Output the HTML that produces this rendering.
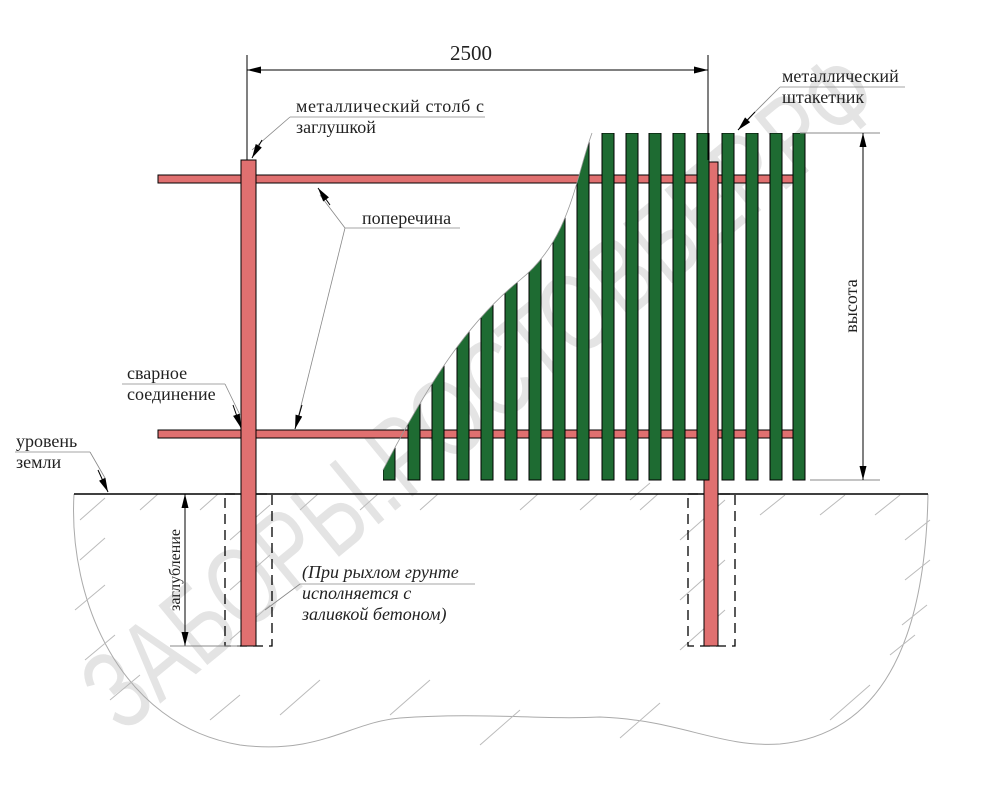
<!DOCTYPE html>
<html><head><meta charset="utf-8"><style>
html,body{margin:0;padding:0;background:#fff}
svg{display:block}
</style></head><body>
<svg width="1000" height="790" viewBox="0 0 1000 790" xmlns="http://www.w3.org/2000/svg">
<defs>
<marker id="a" viewBox="0 0 14 7" refX="14" refY="3.5" markerWidth="16" markerHeight="7" orient="auto" markerUnits="userSpaceOnUse"><path d="M0,0L14,3.5L0,7z" fill="#000"/></marker>
<clipPath id="cur"><path d="M383,470 C430,380 470,320 520,280 C570,240 575,180 592,133 L820,133 L820,490 L383,490Z"/></clipPath>
</defs>
<text transform="translate(122,735) rotate(-39.4)" style="font-family:'Liberation Sans',sans-serif" font-size="112" fill="#e4e4e4" textLength="990" lengthAdjust="spacingAndGlyphs">ЗАБОРЫ.РОСТОВБЕР.РФ</text>
<path d="M74,494 C68,600 120,725 240,745 C320,755 350,722 400,718 C480,712 540,720 600,717 C680,720 720,748 780,744 C870,735 925,660 928,494" fill="none" stroke="#aaa" stroke-width="1"/>
<g stroke="#bbb" stroke-width="1">
<path d="M80,520l25,-22M80,560l25,-22M75,610l30,-25M85,660l30,-25M110,700l30,-25M140,510l18,-16M200,510l18,-16M300,510l18,-16M360,510l18,-16M420,510l18,-16M520,510l18,-16M580,510l18,-16M640,510l18,-16M760,515l25,-20M820,515l25,-20M875,515l25,-20M905,540l25,-20M905,580l25,-20M902,625l25,-20M890,655l25,-20M830,720l40,-35M620,738l40,-35M480,745l40,-35M390,715l40,-35M280,715l40,-35M210,720l30,-25M630,500l20,-17M230,540l40,-35M230,590l40,-35M230,640l40,-35M680,540l45,-40M680,600l45,-40M680,650l45,-40"/>
</g>
<line x1="74" y1="494" x2="928" y2="494" stroke="#000" stroke-width="1.5"/>
<rect x="225" y="494" width="47" height="152" fill="none" stroke="#000" stroke-dasharray="10,6" stroke-width="1.3"/>
<rect x="688" y="494" width="47" height="152" fill="none" stroke="#000" stroke-dasharray="10,6" stroke-width="1.3"/>
<rect x="158" y="175" width="637" height="8" fill="#e07070" stroke="#000"/>
<rect x="158" y="430" width="637" height="8" fill="#e07070" stroke="#000"/>
<rect x="241" y="160" width="15" height="486" fill="#e07070" stroke="#000"/>
<rect x="704" y="162" width="14" height="484" fill="#e07070" stroke="#000"/>
<g clip-path="url(#cur)" fill="#1e6b32" stroke="#000" stroke-width="1">
<rect x="383" y="133" width="12" height="347"/><rect x="408" y="133" width="12" height="347"/><rect x="432" y="133" width="12" height="347"/><rect x="457" y="133" width="12" height="347"/><rect x="481" y="133" width="12" height="347"/><rect x="505" y="133" width="12" height="347"/><rect x="529" y="133" width="12" height="347"/><rect x="553" y="133" width="12" height="347"/><rect x="577" y="133" width="12" height="347"/><rect x="602" y="133" width="12" height="347"/><rect x="626" y="133" width="12" height="347"/><rect x="649" y="133" width="12" height="347"/><rect x="673" y="133" width="12" height="347"/><rect x="697" y="133" width="12" height="347"/><rect x="722" y="133" width="12" height="347"/><rect x="746" y="133" width="12" height="347"/><rect x="770" y="133" width="12" height="347"/><rect x="793" y="133" width="12" height="347"/>
</g>
<path d="M383,470 C430,380 470,320 520,280 C570,240 575,180 592,133" fill="none" stroke="#999" stroke-width="0.8"/>
<g stroke="#000" stroke-width="1">
<line x1="247" y1="55" x2="247" y2="160"/><line x1="708" y1="55" x2="708" y2="160"/>
<line x1="262" y1="70" x2="247" y2="70" marker-end="url(#a)"/><line x1="262" y1="70" x2="693" y2="70"/><line x1="693" y1="70" x2="708" y2="70" marker-end="url(#a)"/>
<line x1="800" y1="133" x2="880" y2="133" stroke="#888"/><line x1="810" y1="480" x2="880" y2="480" stroke="#888"/>
<line x1="863" y1="150" x2="863" y2="133" marker-end="url(#a)"/><line x1="863" y1="150" x2="863" y2="465"/><line x1="863" y1="465" x2="863" y2="480" marker-end="url(#a)"/>
<line x1="185" y1="510" x2="185" y2="494" marker-end="url(#a)"/><line x1="185" y1="510" x2="185" y2="630"/><line x1="185" y1="630" x2="185" y2="646" marker-end="url(#a)"/>
<line x1="170" y1="646" x2="240" y2="646" stroke="#888"/>
</g>
<g stroke="#888" stroke-width="0.8" fill="none">
<line x1="290" y1="117" x2="485" y2="117"/><line x1="290" y1="117" x2="252" y2="150"/>
<line x1="345" y1="228" x2="460" y2="228"/><line x1="345" y1="228" x2="320" y2="195"/><line x1="345" y1="228" x2="298" y2="418"/>
<line x1="122" y1="384" x2="225" y2="384"/><line x1="225" y1="384" x2="240" y2="415"/>
<line x1="15" y1="452" x2="90" y2="452"/><line x1="90" y1="452" x2="105" y2="478"/>
<line x1="780" y1="87" x2="905" y2="87"/><line x1="780" y1="87" x2="745" y2="122"/>
<line x1="300" y1="584" x2="475" y2="584"/><line x1="300" y1="584" x2="265" y2="610"/>
</g>
<g stroke="#000" stroke-width="1">
<line x1="262" y1="140" x2="252" y2="158" marker-end="url(#a)"/>
<line x1="330" y1="205" x2="318" y2="188" marker-end="url(#a)"/>
<line x1="302" y1="405" x2="295" y2="429" marker-end="url(#a)"/>
<line x1="233" y1="405" x2="241" y2="428" marker-end="url(#a)"/>
<line x1="98" y1="470" x2="108" y2="492" marker-end="url(#a)"/>
<line x1="755" y1="112" x2="738" y2="130" marker-end="url(#a)"/>
</g>
<g style="font-family:'Liberation Serif',serif" fill="#222">
<text x="450" y="60" font-size="21">2500</text>
<text transform="translate(857,306) rotate(-90)" text-anchor="middle" font-size="18">высота</text>
<text transform="translate(180,570) rotate(-90)" text-anchor="middle" font-size="16">заглубление</text>
<g font-size="18">
<text x="296" y="112" textLength="188">металлический столб с</text>
<text x="296" y="133">заглушкой</text>
<text x="362" y="224">поперечина</text>
<text x="127" y="379">сварное</text>
<text x="127" y="400">соединение</text>
<text x="16" y="447">уровень</text>
<text x="16" y="468">земли</text>
<text x="782" y="82">металлический</text>
<text x="782" y="103">штакетник</text>
</g>
<g font-style="italic" font-size="18"><text x="302" y="578">(При рыхлом грунте</text><text x="302" y="599">исполняется с</text><text x="302" y="620">заливкой бетоном)</text></g>
</g>
</svg>
</body></html>
